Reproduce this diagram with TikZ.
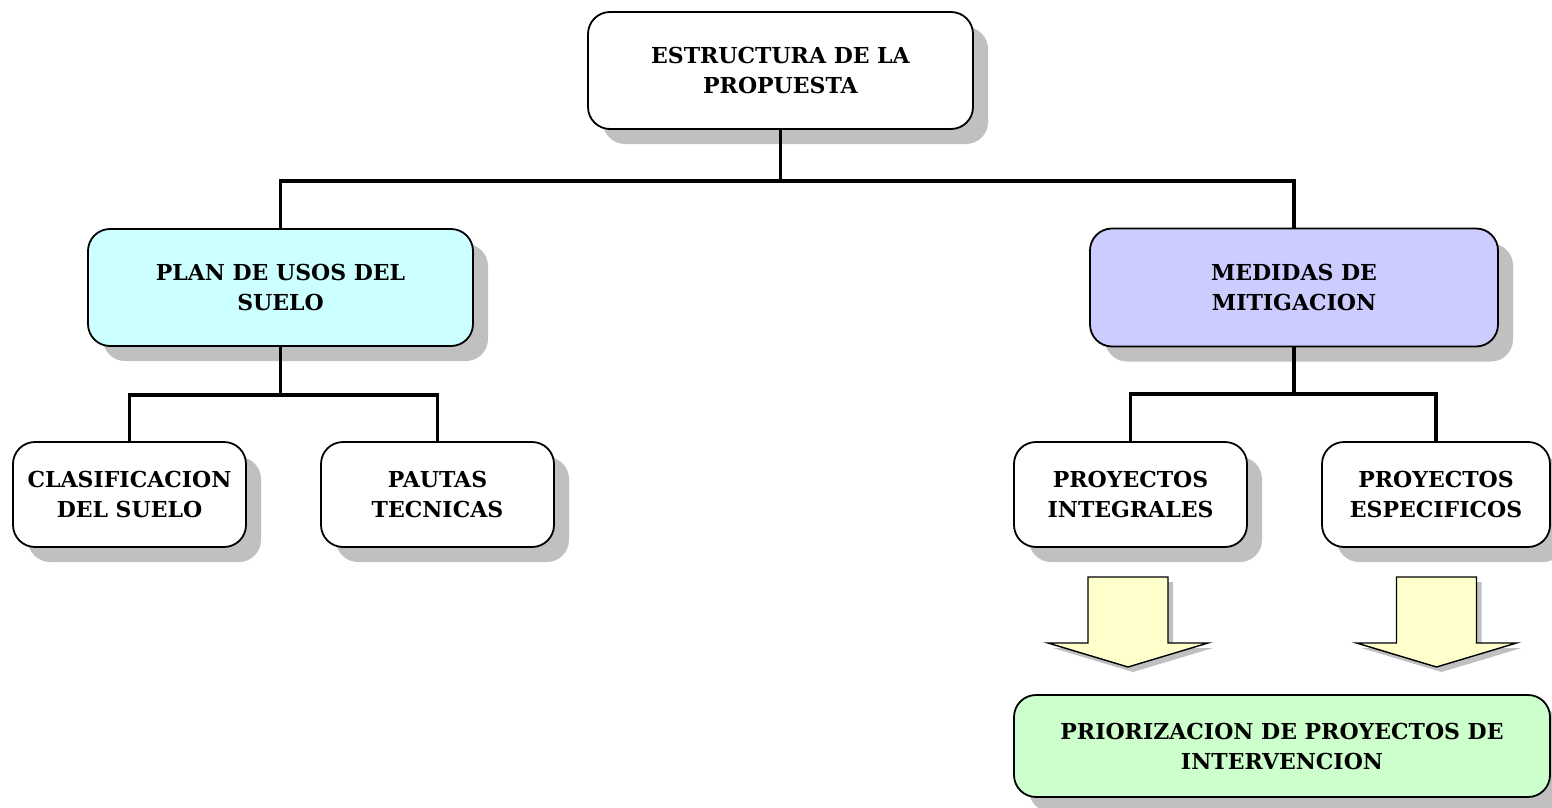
\documentclass[tikz,border=0pt]{standalone}
\usepackage{fontspec}
\setmainfont{DejaVu Serif}
\usetikzlibrary{shadows}
\definecolor{shadowgray}{HTML}{C0C0C0}
\definecolor{cyanbox}{HTML}{CCFFFF}
\definecolor{purplebox}{HTML}{CCCCFF}
\definecolor{greenbox}{HTML}{CCFFCC}
\definecolor{arrowyellow}{HTML}{FFFFCC}
\begin{document}
\begin{tikzpicture}[x=1pt,y=-1pt,
  box/.style={draw=black, line width=1.8pt, rounded corners=22pt, align=center,
    font=\bfseries\fontsize{22}{30}\selectfont, inner sep=0pt,
    drop shadow={shadow xshift=15pt, shadow yshift=-15pt, fill=shadowgray, opacity=1}},
  conn/.style={line width=3.5pt, line join=miter},
  downarrow/.pic={
    \fill[shadowgray] (-35,5) -- (45,5) -- (45,71) -- (85,71) -- (5,95) -- (-75,71) -- (-35,71) -- cycle;
    \filldraw[fill=arrowyellow, draw=black, line width=1.4pt, line join=miter]
      (-40,0) -- (40,0) -- (40,66) -- (80,66) -- (0,90) -- (-80,66) -- (-40,66) -- cycle;
  }]
\useasboundingbox (0,0) rectangle (1552,808);
\fill[white] (0,0) rectangle (1552,808);

\node[box, fill=white, minimum width=385pt, minimum height=117pt] (top) at (780.5,70.5) {ESTRUCTURA DE LA\\PROPUESTA};
\node[box, fill=cyanbox, minimum width=385pt, minimum height=117pt] (plan) at (280.5,287.5) {PLAN DE USOS DEL\\SUELO};
\node[box, fill=purplebox, minimum width=408pt, minimum height=118pt] (med) at (1294,287.5) {MEDIDAS DE\\MITIGACION};
\node[box, fill=white, minimum width=233pt, minimum height=105pt] (clas) at (129.5,494.5) {CLASIFICACION\\DEL SUELO};
\node[box, fill=white, minimum width=233pt, minimum height=105pt] (pautas) at (437.5,494.5) {PAUTAS\\TECNICAS};
\node[box, fill=white, minimum width=233pt, minimum height=105pt] (integ) at (1130.5,494.5) {PROYECTOS\\INTEGRALES};
\node[box, fill=white, minimum width=228pt, minimum height=105pt] (espec) at (1436,494.5) {PROYECTOS\\ESPECIFICOS};
\node[box, fill=greenbox, minimum width=536pt, minimum height=102pt] (prior) at (1282,746) {PRIORIZACION DE PROYECTOS DE\\INTERVENCION};

\path (top.south) ++(0,51) coordinate (b1);
\path (plan.south) ++(0,48) coordinate (b2);
\path (med.south) ++(0,46.5) coordinate (b3);
\draw[conn] (top.south) -- (b1);
\draw[conn] (plan.north) |- (b1) -| (med.north);
\draw[conn] (plan.south) -- (b2);
\draw[conn] (clas.north) |- (b2) -| (pautas.north);
\draw[conn] (med.south) -- (b3);
\draw[conn] (integ.north) |- (b3) -| (espec.north);

\pic at (1128,577) {downarrow};
\pic at (1436.5,577) {downarrow};
\end{tikzpicture}
\end{document}
